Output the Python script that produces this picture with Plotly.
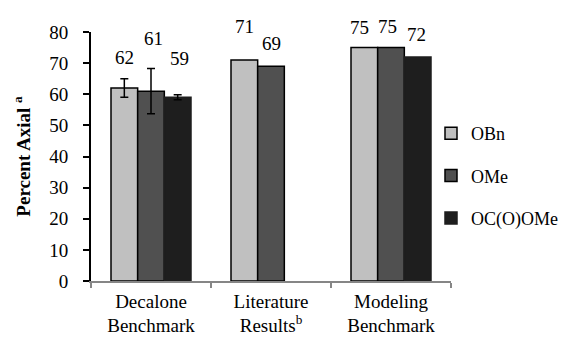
import plotly.graph_objects as go

categories = ["Decalone<br>Benchmark", "Literature<br>Results<sup>b</sup>", "Modeling<br>Benchmark"]
series_names = ["OBn", "OMe", "OC(O)OMe"]
obn = [62, 71, 75]
ome = [61, 69, 75]
ococome = [59, None, 72]
obn_err = [3.0, None, None]
ome_err = [7.3, None, None]
ococome_err = [0.8, None, None]
labels = [["62", "71", "75"], ["61", "69", "75"], ["59", None, "72"]]

y_ticks = [0, 10, 20, 30, 40, 50, 60, 70, 80]

# style (pixel offsets for the manually placed value labels)
label_dy = [[31, 34, 20], [53, 23, 21], [39, 0, 22]]
label_dx = [[0, 0, -5], [2, 0, -3.5], [2, 0, -1.5]]

colors = ["#C0C0C0", "#505050", "#1E1E1E"]
line_colors = ["#000000", "#000000", "#1E1E1E"]
FONT = "Liberation Serif, Times New Roman, DejaVu Serif, serif"
FS = 19

values = [obn, ome, ococome]
errs = [obn_err, ome_err, ococome_err]


def trim_none(arr):
    # trailing missing error values are left out so no error bar is drawn there
    out = list(arr)
    while out and out[-1] is None:
        out.pop()
    return out


fig = go.Figure()
for i, name in enumerate(series_names):
    fig.add_trace(go.Bar(
        x=categories, y=values[i], name=name,
        marker=dict(color=colors[i], line=dict(color=line_colors[i], width=1.5)),
        error_y=dict(type="data", array=trim_none(errs[i]), visible=True, color="black",
                     thickness=1.5, width=4),
        legendgroup=name,
    ))

L, R, T, B = 83, 125, 24, 65
W, H = 568, 338
plot_w = W - L - R
plot_h = H - T - B
cat_w = plot_w / len(categories)
bargap = 1 / 3
bar_w = cat_w * (1 - bargap) / len(series_names)

annotations = []
for i in range(len(series_names)):
    for j, cat in enumerate(categories):
        if labels[i][j] is None:
            continue
        annotations.append(dict(
            x=cat, y=values[i][j], xref="x", yref="y",
            text=labels[i][j], showarrow=False,
            xshift=(i - 1) * bar_w + label_dx[i][j], yshift=label_dy[i][j],
            font=dict(family=FONT, size=FS, color="black"),
            yanchor="middle", xanchor="center",
        ))

fig.update_layout(
    width=W, height=H,
    margin=dict(l=L, r=R, t=T, b=B, autoexpand=False),
    paper_bgcolor="white", plot_bgcolor="white",
    barmode="group", bargap=bargap, bargroupgap=0,
    font=dict(family=FONT, size=FS, color="black"),
    showlegend=True,
    legend=dict(x=(423 - L) / plot_w, y=(273 - 107) / plot_h, xanchor="left", yanchor="top",
                font=dict(family=FONT, size=18, color="black"),
                tracegroupgap=16, traceorder="grouped", bgcolor="rgba(0,0,0,0)"),
    annotations=annotations,
    xaxis=dict(showline=True, linecolor="#868686", linewidth=1.5, ticks="outside",
               tickson="boundaries", ticklen=5, tickcolor="#868686", tickwidth=1.5,
               showgrid=False, tickfont=dict(family=FONT, size=FS), automargin=False,
               ticklabelstandoff=2),
    yaxis=dict(range=[0, 80], tickvals=y_ticks, showline=True, linecolor="black", linewidth=2,
               ticks="outside", ticklen=6, tickwidth=1.5, tickcolor="black", showgrid=False,
               zeroline=False, tickfont=dict(family=FONT, size=FS), automargin=False,
               ticklabelstandoff=11,
               title=dict(text="<b>Percent Axial <sup>a</sup></b>", font=dict(family=FONT, size=FS),
                          standoff=14)),
)

fig.write_html("out.html")
